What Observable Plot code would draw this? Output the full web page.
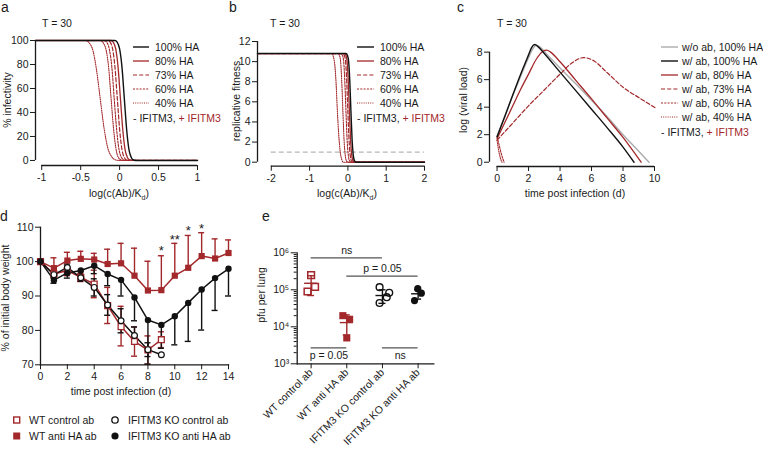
<!DOCTYPE html>
<html><head><meta charset="utf-8">
<script src="https://cdn.jsdelivr.net/npm/d3@7"></script>
<script src="https://cdn.jsdelivr.net/npm/@observablehq/plot@0.6"></script>
<style>
body{margin:0;background:#fff;}
#root{position:relative;width:763px;height:451px;overflow:hidden;background:#fff;}
</style></head><body><div id="root"></div>
<script>
// ---------------- DATA ----------------
const RED = "#a3282b", BLACK = "#111111", GRAY = "#ababab";

// Panel a: % infectivity vs log(c(Ab)/Kd)
const aXTicks = [-1, -0.5, 0, 0.5, 1];
const aYTicks = [0, 20, 40, 60, 80, 100];
const a100 = [[-1.08,100],[-0.06,100],[-0.03,98.5],[0,93],[0.03,78],[0.06,52],[0.09,26],[0.12,9],[0.15,2.5],[0.18,0.4],[0.22,0],[1,0]];
const a80  = [[-1.08,100],[-0.11,100],[-0.08,98.5],[-0.05,93],[-0.02,78],[0.01,52],[0.04,26],[0.07,9],[0.1,2.5],[0.13,0.4],[0.17,0],[1,0]];
const a73  = [[-1.08,100],[-0.15,100],[-0.12,98.5],[-0.09,93],[-0.06,78],[-0.03,52],[0,26],[0.03,9],[0.06,2.5],[0.09,0.4],[0.13,0],[1,0]];
const a60  = [[-1.08,100],[-0.2,100],[-0.16,98],[-0.13,92],[-0.1,78],[-0.07,52],[-0.04,27],[-0.01,10],[0.02,3],[0.06,0.4],[0.1,0],[1,0]];
const a40b = [[-1.08,100],[-0.25,100],[-0.21,98],[-0.17,91],[-0.14,77],[-0.11,52],[-0.08,28],[-0.05,11],[-0.02,3],[0.02,0.4],[0.06,0],[1,0]];
const a40  = [[-1.08,100],[-0.44,100],[-0.39,98],[-0.34,91],[-0.3,77],[-0.25,52],[-0.2,27],[-0.15,10],[-0.1,3],[-0.05,0.4],[0,0],[1,0]];

// Panel b: replicative fitness vs log(c(Ab)/Kd)
const bXTicks = [-2, -1, 0, 1, 2];
const bYTicks = [0, 2, 4, 6, 8, 10, 12];
const bThreshold = [1];
const b100 = [[-2.36,10.8],[-0.05,10.8],[-0.01,10.6],[0.02,10],[0.05,8],[0.08,5],[0.11,2.2],[0.14,0.7],[0.17,0.15],[0.21,0],[2,0]];
const b80  = [[-2.36,10.8],[-0.09,10.8],[-0.05,10.6],[-0.02,10],[0.01,8],[0.04,5],[0.07,2.2],[0.1,0.7],[0.13,0.15],[0.17,0],[2,0]];
const b73  = [[-2.36,10.8],[-0.13,10.8],[-0.09,10.6],[-0.06,10],[-0.03,8],[0,5],[0.03,2.2],[0.06,0.7],[0.09,0.15],[0.13,0],[2,0]];
const b60  = [[-2.36,10.8],[-0.18,10.8],[-0.14,10.6],[-0.11,10],[-0.08,8],[-0.05,5],[-0.02,2.2],[0.01,0.7],[0.04,0.15],[0.08,0],[2,0]];
const b40b = [[-2.36,10.8],[-0.26,10.8],[-0.22,10.6],[-0.19,10],[-0.16,8],[-0.13,5],[-0.1,2.2],[-0.07,0.7],[-0.04,0.15],[0,0],[2,0]];
const b40  = [[-2.36,10.8],[-0.42,10.8],[-0.38,10.5],[-0.34,9.6],[-0.31,8],[-0.28,5.5],[-0.24,2.8],[-0.2,1.0],[-0.16,0.25],[-0.12,0],[2,0]];

// Panel c: log(viral load) vs time
const cXTicks = [0, 2, 4, 6, 8, 10];
const cYTicks = [0, 2, 4, 6, 8];
const cNoAb100 = [[0,1.9],[0.5,3.4],[1,4.85],[1.5,6.25],[2,7.6],[2.3,8.3],[2.5,8.5],[2.75,8.35],[3.2,7.8],[4,6.85],[5,5.7],[6,4.5],[7,3.3],[8,2.0],[9,0.8],[9.65,0]];
const cAb100 = [[0,1.85],[0.5,3.35],[1,4.9],[1.5,6.4],[2,7.8],[2.2,8.35],[2.4,8.55],[2.6,8.4],[3,7.9],[4,6.55],[5,5.2],[6,3.85],[7,2.5],[8,1.1],[8.7,0]];
const cAb80 = [[0,1.7],[0.5,2.9],[1,4.1],[1.5,5.3],[2,6.4],[2.5,7.5],[2.9,8.05],[3.15,8.15],[3.4,8.0],[4,7.3],[5,5.95],[6,4.6],[7,3.2],[8,1.8],[9.15,0]];
const cAb73 = [[0,1.6],[1,2.85],[2,4.1],[3,5.25],[4,6.4],[4.8,7.25],[5.5,7.6],[6.1,7.4],[7,6.5],[8,5.45],[9,4.7],[10.05,3.95]];
const cAb60 = [[0,1.85],[0.1,1.4],[0.25,0.7],[0.45,0]];
const cAb40 = [[0,1.6],[0.08,1.0],[0.2,0.35],[0.32,0]];

// Panel d: % of initial body weight vs time
const dXTicks = [0, 2, 4, 6, 8, 10, 12, 14];
const dYTicks = [70, 80, 90, 100, 110];
const dDays = [0,1,2,3,4,5,6,7,8,9,10,11,12,13,14];
const dWTctrl   = [100, 96.4, 97.4, 95.4, 93.5, 87.2, 81.1, 76.8, 74.3, 77.3];
const dWTctrlLo = [null, 95.4, 95.9, 94.2, 89.5, 82.0, 75.5, 72.5, 70.2, 75.0];
const dWTctrlHi = [null, 97.4, 98.9, 96.6, 97.5, 92.5, 87.0, 81.0, 78.4, 79.6];
const dKOctrl   = [100, 96.2, 98.3, 95.3, 92.5, 87.4, 82.8, 78.5, 74.4, 72.9];
const dKOctrlLo = [null, 95.2, 97.3, 94.3, 90.0, 84.4, 79.3, 76.0, 72.4, null];
const dKOctrlHi = [null, 97.2, 99.3, 96.3, 95.0, 90.4, 86.3, 81.0, 76.4, null];
const dWTanti   = [100, 98.1, 100.3, 100.8, 100.6, 99.3, 99.5, 95.9, 91.6, 91.7, 95.9, 98.2, 101.6, 100.9, 102.5];
const dWTantiHi = [null, 101.1, 102.7, 103.0, 102.4, 103.6, 105.3, 103.9, 100.1, 101.7, 105.3, 107.6, 108.4, 106.6, 106.3];
const dKOanti   = [100, 94.6, 96.7, 97.4, 98.8, 96.4, 94.7, 89.6, 83.0, 81.6, 84.1, 88.0, 91.9, 95.2, 97.9];
const dKOantiLo = [null, 93.7, 95.2, 95.8, 96.5, 93.0, 90.0, 82.8, 70.2, 74.8, 75.8, 76.8, 80.1, 85.8, 90.0];
const dStars = [{day: 9, y: 104.2, s: "*"}, {day: 10, y: 107.6, s: "**"}, {day: 11, y: 110.0, s: "*"}, {day: 12, y: 110.7, s: "*"}];

// Panel e: pfu per lung
const eCats = ["WT control ab", "WT anti HA ab", "IFITM3 KO control ab", "IFITM3 KO anti HA ab"];
const eYTicks = [1e3, 1e4, 1e5, 1e6];
const eYLabels = ["10³", "10⁴", "10⁵", "10⁶"];
const eWTctrl = [2.5e5, 1.2e5, 9.0e4];
const eWTanti = [2.0e4, 1.6e4, 5.0e3];
const eKOctrl = [1.18e5, 8.3e4, 6.3e4, 4.4e4];
const eKOanti = [1.07e5, 8.1e4, 5.1e4];
const eMean = [1.5e5, 1.3e4, 7.0e4, 7.8e4];
const eLo   = [7.0e4, 6.0e3, 4.3e4, 5.6e4];
const eHi   = [2.4e5, 2.1e4, 1.0e5, 1.0e5];
const eSig = [
  {a: 0, b: 2, y: 7.3e5, label: "ns", side: "above"},
  {a: 1, b: 3, y: 2.35e5, label: "p = 0.05", side: "above"},
  {a: 0, b: 1, y: 2.7e3, label: "p = 0.05", side: "below"},
  {a: 2, b: 3, y: 2.7e3, label: "ns", side: "below"}
];

// ---------------- STYLE ----------------
const FONT = "'Liberation Sans', Arial, Helvetica, sans-serif";
const FS = 10.5;
const baseStyle = {fontFamily: FONT, fontSize: FS + "px", background: "transparent", overflow: "visible", color: "#1a1a1a"};
const DASH = {solid: undefined, dashed: "4,2.2", short: "2,1.3", dotted: "1,1.2"};
// jitter (in category units) for panel e points
const eJit = {wtc: [0, 0.11, -0.1], wta: [-0.11, 0.08, 0], koc: [-0.08, 0.19, 0.12, -0.08], koa: [-0.01, 0.09, -0.1]};

const root = document.getElementById("root");
function mount(svg, left, top) {
  svg.style.position = "absolute"; svg.style.left = left + "px"; svg.style.top = top + "px";
  root.appendChild(svg);
}
function lines(list) {
  return list.map(s => Plot.line(s.pts, {x: d => d[0], y: d => d[1], stroke: s.color,
    strokeWidth: s.w, strokeDasharray: s.dash, curve: "monotone-x"}));
}
const fmt = d => String(d);

// ---------------- PANEL a ----------------
const aXDom = [-1.08, 1], aYDom = [-4.2, 100];
mount(Plot.plot({
  width: 232, height: 200, marginLeft: 35, marginRight: 35, marginTop: 40, marginBottom: 35,
  x: {domain: aXDom}, y: {domain: aYDom}, style: baseStyle,
  marks: [
    ...lines([
      {pts: a40, color: RED, dash: DASH.dotted, w: 1.1},
      {pts: a40b, color: RED, dash: DASH.dotted, w: 1.1},
      {pts: a60, color: RED, dash: DASH.short, w: 1.1},
      {pts: a73, color: RED, dash: DASH.dashed, w: 1.2},
      {pts: a80, color: RED, dash: DASH.solid, w: 1.3},
      {pts: a100, color: BLACK, dash: DASH.solid, w: 1.4}
    ]),
    Plot.ruleX([aXDom[0]], {y1: aYTicks[0], y2: aYTicks[aYTicks.length - 1], strokeWidth: 1.3}),
    Plot.ruleY([aYDom[0]], {x1: aXTicks[0], x2: aXTicks[aXTicks.length - 1], strokeWidth: 1.3}),
    Plot.axisY({ticks: aYTicks, tickSize: 5, tickPadding: 2, label: null, tickFormat: fmt}),
    Plot.axisX({ticks: aXTicks, tickSize: 5, tickPadding: 3, label: null, tickFormat: fmt})
  ]
}), 0, 0);

// ---------------- PANEL b ----------------
const bXDom = [-2.36, 2], bYDom = [-0.4, 12];
mount(Plot.plot({
  width: 230, height: 200, marginLeft: 25, marginRight: 38, marginTop: 41, marginBottom: 34.3,
  x: {domain: bXDom}, y: {domain: bYDom}, style: baseStyle,
  marks: [
    Plot.ruleY(bThreshold, {x1: bXTicks[0], x2: bXTicks[bXTicks.length - 1], stroke: "#b8b8b8", strokeWidth: 1.2, strokeDasharray: "5,3"}),
    ...lines([
      {pts: b40, color: RED, dash: DASH.dotted, w: 1.1},
      {pts: b40b, color: RED, dash: DASH.dotted, w: 1.1},
      {pts: b60, color: RED, dash: DASH.short, w: 1.1},
      {pts: b73, color: RED, dash: DASH.dashed, w: 1.2},
      {pts: b80, color: RED, dash: DASH.solid, w: 1.3},
      {pts: b100, color: BLACK, dash: DASH.solid, w: 1.4}
    ]),
    Plot.ruleX([bXDom[0]], {y1: bYTicks[0], y2: bYTicks[bYTicks.length - 1], strokeWidth: 1.3}),
    Plot.ruleY([bYDom[0]], {x1: bXTicks[0], x2: bXTicks[bXTicks.length - 1], strokeWidth: 1.3}),
    Plot.axisY({ticks: bYTicks, tickSize: 5, tickPadding: 2, label: null, tickFormat: fmt}),
    Plot.axisX({ticks: bXTicks, tickSize: 5, tickPadding: 3, label: null, tickFormat: fmt})
  ]
}), 232, 0);

// ---------------- PANEL c ----------------
const cXDom = [-0.48, 10], cYDom = [-0.31, 8.7];
mount(Plot.plot({
  width: 301, height: 200, marginLeft: 27, marginRight: 109, marginTop: 42, marginBottom: 34,
  x: {domain: cXDom}, y: {domain: cYDom}, style: baseStyle,
  marks: [
    ...lines([
      {pts: cNoAb100, color: GRAY, dash: DASH.solid, w: 1.4},
      {pts: cAb40, color: RED, dash: DASH.dotted, w: 1.1},
      {pts: cAb60, color: RED, dash: DASH.short, w: 1.1},
      {pts: cAb73, color: RED, dash: DASH.dashed, w: 1.2},
      {pts: cAb80, color: RED, dash: DASH.solid, w: 1.3},
      {pts: cAb100, color: BLACK, dash: DASH.solid, w: 1.4}
    ]),
    Plot.ruleX([cXDom[0]], {y1: cYTicks[0], y2: cYTicks[cYTicks.length - 1], strokeWidth: 1.3}),
    Plot.ruleY([cYDom[0]], {x1: cXTicks[0], x2: cXTicks[cXTicks.length - 1], strokeWidth: 1.3}),
    Plot.axisY({ticks: cYTicks, tickSize: 5, tickPadding: 2, label: null, tickFormat: fmt}),
    Plot.axisX({ticks: cXTicks, tickSize: 5, tickPadding: 3, label: null, tickFormat: fmt})
  ]
}), 462, 0);

// ---------------- PANEL d ----------------
const rows = (vals, extra = {}) => vals.map((v, i) => ({day: dDays[i], v, ...Object.fromEntries(Object.entries(extra).map(([k, arr]) => [k, arr[i]]))}));
const dWC = rows(dWTctrl, {lo: dWTctrlLo, hi: dWTctrlHi});
const dKC = rows(dKOctrl, {lo: dKOctrlLo, hi: dKOctrlHi});
const dWA = rows(dWTanti, {hi: dWTantiHi});
const dKA = rows(dKOanti, {lo: dKOantiLo});
const withErr = (arr, k) => arr.filter(d => d[k] != null);
function errMarks(arr, color, keys) {
  const m = [];
  for (const [a, b] of keys) {
    const f = withErr(arr, b);
    m.push(Plot.ruleX(f, {x: "day", y1: a, y2: b, stroke: color, strokeWidth: 1.4}));
    m.push(Plot.ruleY(f, {x1: "day", x2: "day", y: b, stroke: color, strokeWidth: 1.4, insetLeft: -3, insetRight: -3}));
  }
  return m;
}
mount(Plot.plot({
  width: 250, height: 200, marginLeft: 40, marginRight: 22, marginTop: 26.7, marginBottom: 35.7,
  x: {domain: [dXTicks[0], dXTicks[dXTicks.length - 1]]}, y: {domain: [dYTicks[0], dYTicks[dYTicks.length - 1]]},
  style: baseStyle,
  marks: [
    ...errMarks(dWC, RED, [["v", "lo"], ["v", "hi"]]),
    ...errMarks(dKC, BLACK, [["v", "lo"], ["v", "hi"]]),
    ...errMarks(dWA, RED, [["v", "hi"]]),
    ...errMarks(dKA, BLACK, [["v", "lo"]]),
    Plot.line(dWC, {x: "day", y: "v", stroke: RED, strokeWidth: 1.5}),
    Plot.line(dKC, {x: "day", y: "v", stroke: BLACK, strokeWidth: 1.5}),
    Plot.line(dWA, {x: "day", y: "v", stroke: RED, strokeWidth: 1.5}),
    Plot.line(dKA, {x: "day", y: "v", stroke: BLACK, strokeWidth: 1.5}),
    Plot.dot(dWC, {x: "day", y: "v", symbol: "square", r: 3.3, stroke: RED, strokeWidth: 1.3, fill: "white"}),
    Plot.dot(dKC, {x: "day", y: "v", symbol: "circle", r: 2.9, stroke: BLACK, strokeWidth: 1.2, fill: "white"}),
    Plot.dot(dWA, {x: "day", y: "v", symbol: "square", r: 3.5, fill: RED}),
    Plot.dot(dKA, {x: "day", y: "v", symbol: "circle", r: 3.2, fill: BLACK}),
    Plot.text(dStars, {x: "day", y: "y", text: "s", fontSize: 13, dy: 4, fill: "#1a1a1a"}),
    Plot.frame({anchor: "left", strokeWidth: 1.3}),
    Plot.frame({anchor: "bottom", strokeWidth: 1.3}),
    Plot.axisY({ticks: dYTicks, tickSize: 5, tickPadding: 2, label: null, tickFormat: fmt}),
    Plot.axisX({ticks: dXTicks, tickSize: 5, tickPadding: 3, label: null, tickFormat: fmt})
  ]
}), 0, 200);

// ---------------- PANEL e ----------------
const ePts = (vals, cat, jit) => vals.map((v, i) => ({x: cat + jit[i], v}));
const eStats = eMean.map((m, i) => ({i, m, lo: eLo[i], hi: eHi[i], color: i < 2 ? RED : BLACK}));
const eMinor = [];
for (let k = 3; k < 6; k++) for (let j = 2; j <= 9; j++) eMinor.push(j * Math.pow(10, k));
mount(Plot.plot({
  width: 200, height: 251, marginLeft: 41.7, marginRight: 21.7, marginTop: 52.3, marginBottom: 87.7,
  x: {domain: [-0.39, 3.44]}, y: {type: "log", domain: [eYTicks[0], eYTicks[eYTicks.length - 1]]},
  style: baseStyle,
  marks: [
    Plot.ruleY(eSig, {x1: "a", x2: "b", y: "y", stroke: "#555", strokeWidth: 1.3}),
    Plot.text(eSig.filter(d => d.side === "above"), {x: d => (d.a + d.b) / 2, y: "y", text: "label", dy: -7, fill: "#1a1a1a"}),
    Plot.text(eSig.filter(d => d.side === "below"), {x: d => (d.a + d.b) / 2, y: "y", text: "label", dy: 8, fill: "#1a1a1a"}),
    Plot.ruleX(eStats, {x: "i", y1: "lo", y2: "hi", stroke: "color", strokeWidth: 1.4}),
    Plot.ruleY(eStats, {x1: "i", x2: "i", y: "m", stroke: "color", strokeWidth: 1.4, insetLeft: -6.5, insetRight: -6.5}),
    Plot.ruleY(eStats, {x1: "i", x2: "i", y: "lo", stroke: "color", strokeWidth: 1.4, insetLeft: -3.5, insetRight: -3.5}),
    Plot.ruleY(eStats, {x1: "i", x2: "i", y: "hi", stroke: "color", strokeWidth: 1.4, insetLeft: -3.5, insetRight: -3.5}),
    Plot.dot(ePts(eWTctrl, 0, eJit.wtc), {x: "x", y: "v", symbol: "square", r: 3.8, stroke: RED, strokeWidth: 1.5, fill: "none"}),
    Plot.dot(ePts(eWTanti, 1, eJit.wta), {x: "x", y: "v", symbol: "square", r: 4.0, fill: RED}),
    Plot.dot(ePts(eKOctrl, 2, eJit.koc), {x: "x", y: "v", symbol: "circle", r: 3.4, stroke: BLACK, strokeWidth: 1.4, fill: "none"}),
    Plot.dot(ePts(eKOanti, 3, eJit.koa), {x: "x", y: "v", symbol: "circle", r: 3.6, fill: BLACK}),
    Plot.frame({anchor: "left", strokeWidth: 1.3}),
    Plot.frame({anchor: "bottom", strokeWidth: 1.3}),
    Plot.axisY({ticks: eMinor, tickSize: 3, label: null, tickFormat: () => ""}),
    Plot.axisY({ticks: eYTicks, tickSize: 6, tickPadding: 2, label: null, tickFormat: (d, i) => eYLabels[eYTicks.indexOf(d)]}),
    Plot.axisX({ticks: [0, 1, 2, 3], tickSize: 5, tickPadding: 2, label: null, tickRotate: -45, tickFormat: i => eCats[i]})
  ]
}), 255, 200);

// ---------------- OVERLAY: panel letters, titles, legends ----------------
const ov = d3.create("svg").attr("width", 763).attr("height", 451)
  .style("position", "absolute").style("left", "0px").style("top", "0px")
  .style("font-family", FONT).style("font-size", FS + "px").attr("fill", "#1a1a1a");
function txt(x, y, s, o = {}) {
  const t = ov.append("text").attr("x", x).attr("y", y).text(s);
  if (o.size) t.style("font-size", o.size + "px");
  if (o.anchor) t.attr("text-anchor", o.anchor);
  if (o.fill) t.attr("fill", o.fill);
  return t;
}
function vtxt(x, y, s) {
  ov.append("text").attr("transform", `translate(${x},${y}) rotate(-90)`).attr("text-anchor", "middle").text(s);
}
function kdLabel(cx, y) {
  const t = ov.append("text").attr("x", cx).attr("y", y).attr("text-anchor", "middle");
  t.append("tspan").text("log(c(Ab)/K");
  t.append("tspan").attr("dy", 2.5).style("font-size", "7px").text("d");
  t.append("tspan").attr("dy", -2.5).text(")");
}
// panel letters
txt(1, 12, "a", {size: 14}); txt(229, 12, "b", {size: 14}); txt(457, 12, "c", {size: 14});
txt(0, 221, "d", {size: 14}); txt(262, 221, "e", {size: 14});
// T = 30
txt(42, 27, "T = 30"); txt(270, 27, "T = 30"); txt(497, 27, "T = 30");
// axis titles
kdLabel(119, 197); kdLabel(347, 197);
txt(575, 197, "time post infection (d)", {anchor: "middle"});
txt(121, 395, "time post infection (d)", {anchor: "middle"});
vtxt(11, 100, "% infectivity");
vtxt(240, 101, "replicative fitness");
vtxt(467, 100, "log (viral load)");
vtxt(9, 298, "% of initial body weight");
vtxt(265, 295, "pfu per lung");

// legends a & b
const abLegend = [
  {label: "100% HA", color: BLACK, dash: DASH.solid, w: 1.4},
  {label: "80% HA", color: RED, dash: DASH.solid, w: 1.3},
  {label: "73% HA", color: RED, dash: DASH.dashed, w: 1.2},
  {label: "60% HA", color: RED, dash: DASH.short, w: 1.1},
  {label: "40% HA", color: RED, dash: DASH.dotted, w: 1.1}
];
const cLegend = [
  {label: "w/o ab, 100% HA", color: GRAY, dash: DASH.solid, w: 1.4},
  {label: "w/ ab, 100% HA", color: BLACK, dash: DASH.solid, w: 1.4},
  {label: "w/ ab, 80% HA", color: RED, dash: DASH.solid, w: 1.3},
  {label: "w/ ab, 73% HA", color: RED, dash: DASH.dashed, w: 1.2},
  {label: "w/ ab, 60% HA", color: RED, dash: DASH.short, w: 1.1},
  {label: "w/ ab, 40% HA", color: RED, dash: DASH.dotted, w: 1.1}
];
function lineLegend(items, x0, x1, tx, y0, dy) {
  items.forEach((it, i) => {
    const y = y0 + i * dy;
    const l = ov.append("line").attr("x1", x0).attr("x2", x1).attr("y1", y).attr("y2", y)
      .attr("stroke", it.color).attr("stroke-width", it.w);
    if (it.dash) l.attr("stroke-dasharray", it.dash);
    txt(tx, y + 3.7, it.label);
  });
  const y = y0 + items.length * dy + 1;
  const t = ov.append("text").attr("x", x0).attr("y", y + 3.7);
  t.append("tspan").text("- IFITM3, ");
  t.append("tspan").attr("fill", RED).text("+ IFITM3");
}
lineLegend(abLegend, 133, 149, 155, 47, 14);
lineLegend(abLegend, 357, 374, 380, 47, 14);
lineLegend(cLegend, 661, 678, 682, 47, 14);

// legend d/e
function sym(x, y, shape, filled, color) {
  if (shape === "square") {
    const s = filled ? 7 : 6;
    ov.append("rect").attr("x", x - s / 2).attr("y", y - s / 2).attr("width", s).attr("height", s)
      .attr("fill", filled ? color : "white").attr("stroke", filled ? "none" : color).attr("stroke-width", 1.4);
  } else {
    ov.append("circle").attr("cx", x).attr("cy", y).attr("r", filled ? 3.6 : 3.2)
      .attr("fill", filled ? color : "white").attr("stroke", filled ? "none" : color).attr("stroke-width", 1.3);
  }
}
sym(16.7, 420, "square", false, RED); txt(29, 423.7, "WT control ab");
sym(16.7, 436, "square", true, RED); txt(29, 439.7, "WT anti HA ab");
sym(115, 420, "circle", false, BLACK); txt(128, 423.7, "IFITM3 KO control ab");
sym(115, 436, "circle", true, BLACK); txt(128, 439.7, "IFITM3 KO anti HA ab");

root.appendChild(ov.node());
</script></body></html>
